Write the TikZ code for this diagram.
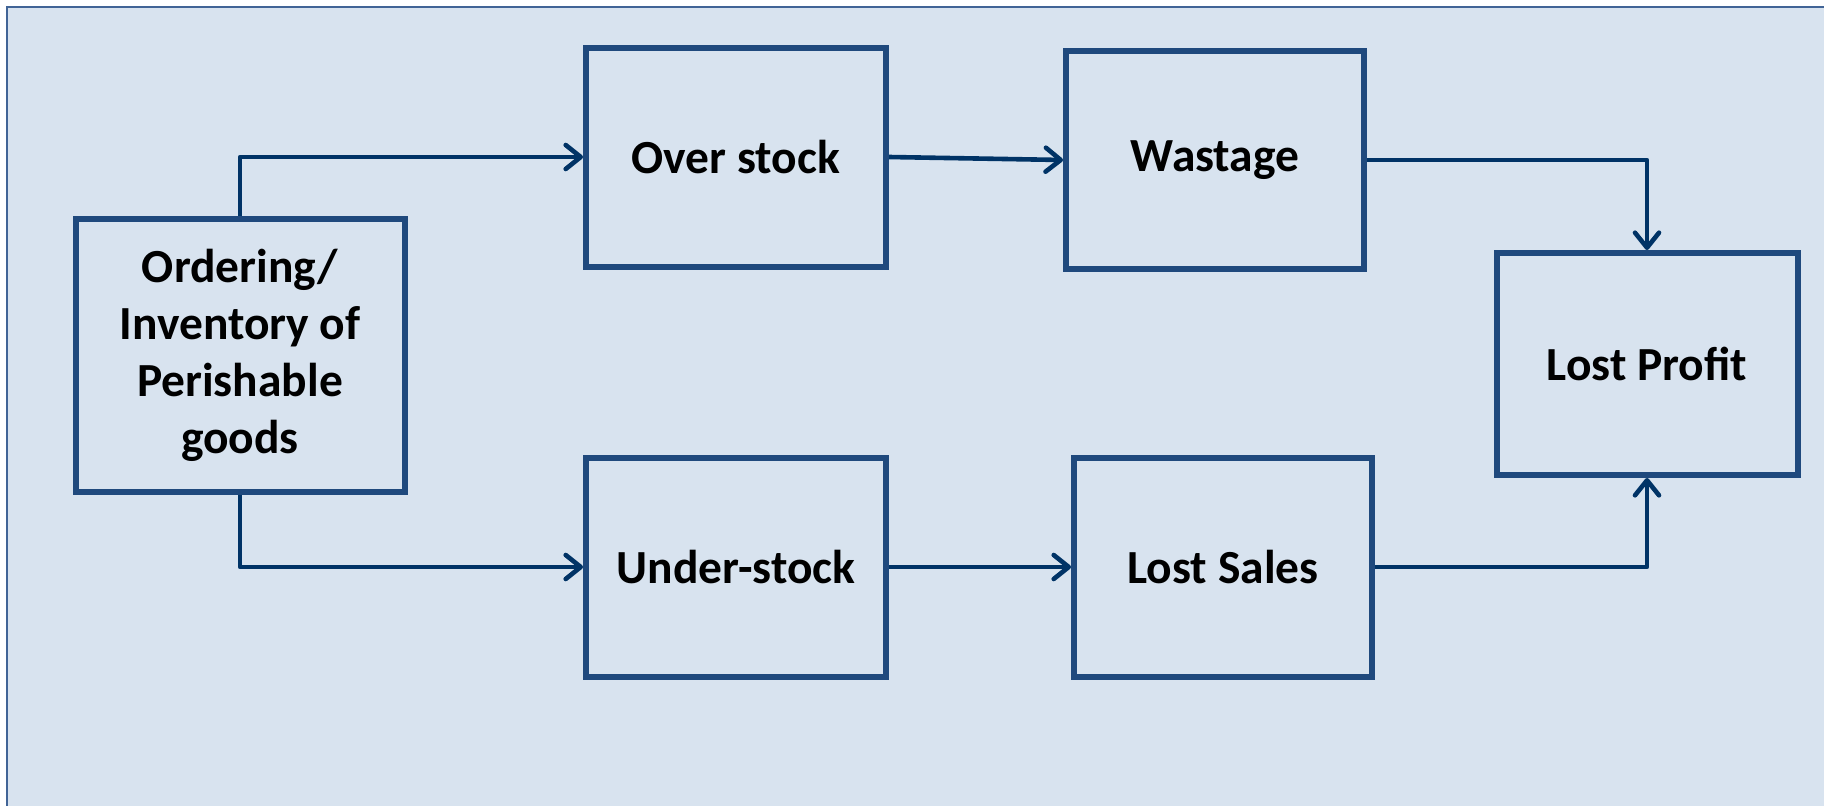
\documentclass[tikz,border=0pt]{standalone}
\usepackage{fontspec}
\setmainfont{Carlito}
\usetikzlibrary{arrows.meta}
\definecolor{bg}{RGB}{216,227,239}
\definecolor{boxline}{RGB}{31,73,125}
\definecolor{connc}{RGB}{0,51,102}
\definecolor{framec}{RGB}{65,100,150}
\begin{document}
\begin{tikzpicture}[x=1pt,y=-1pt,
  box/.style={draw=boxline,line width=6pt,fill=bg,inner sep=0pt,align=center,
    font=\fontsize{47.5}{57}\selectfont\bfseries,text=black},
  conn/.style={draw=connc,line width=4.6pt,line join=round,
    -{Straight Barb[length=15pt,width=24pt,line width=4.6pt,round]}}]
\useasboundingbox (0,0) rectangle (1824,806);
\clip (0,0) rectangle (1824,806);
\fill[white] (0,0) rectangle (1824,806);
\fill[bg] (7,7) rectangle (1830,812);
\draw[framec,line width=2pt] (7,7) rectangle (1830,812);

\node[box,minimum width=329pt,minimum height=273pt] (ord) at (240,355)
  {Ordering/\\Inventory of\\Perishable\\goods};
\node[box,minimum width=300pt,minimum height=219pt] (over) at (736,157) {Over stock};
\node[box,minimum width=298pt,minimum height=218pt] (waste) at (1215,160) {Wastage};
\node[box,minimum width=301pt,minimum height=222pt] (lp) at (1647,364) {Lost Profit};
\node[box,minimum width=300pt,minimum height=219pt] (under) at (736,567) {Under-stock};
\node[box,minimum width=298pt,minimum height=219pt] (sales) at (1223,567) {Lost Sales};

\draw[conn] (ord.north) |- (over.west);
\draw[conn] (over.east) -- (waste.west);
\draw[conn] (waste.east) -| (lp.north);
\draw[conn] (ord.south) |- (under.west);
\draw[conn] (under.east) -- (sales.west);
\draw[conn] (sales.east) -| (lp.south);
\end{tikzpicture}
\end{document}
